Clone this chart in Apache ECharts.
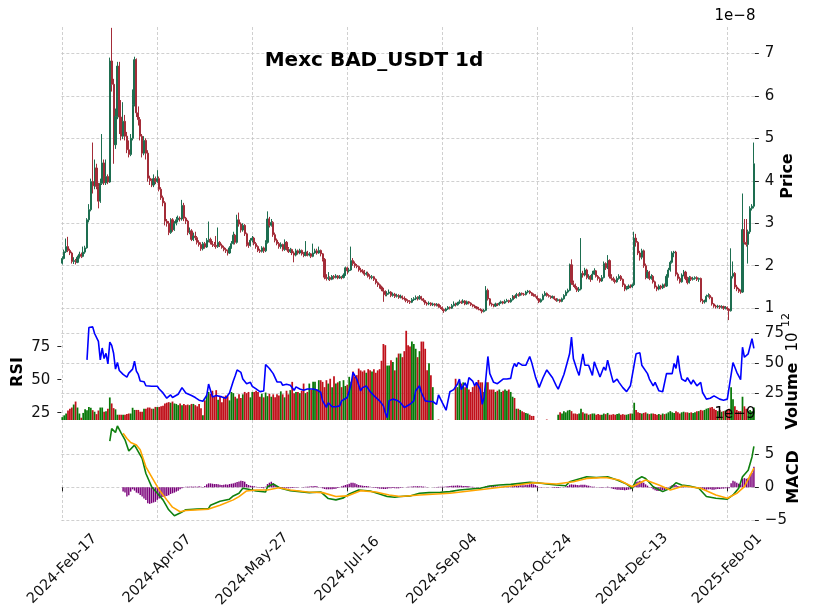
<!DOCTYPE html>
<html>
<head>
<meta charset="utf-8">
<title>Mexc BAD_USDT 1d</title>
<script src="https://cdn.jsdelivr.net/npm/echarts@6/dist/echarts.min.js"></script>
<style>
html, body { margin: 0; padding: 0; background: #fff; }
#chart { width: 818px; height: 615px; }
</style>
</head>
<body>
<div id="chart"></div>
<script>
// daily candles from 2024-02-17, prices in units of 1e-8
var startDate = '2024-02-17';
var firstOpen = 2.06;
var closes = [
  2.17,2.33,2.45,2.36,2.30,2.10,2.12,2.08,2.20,2.27,
  2.22,2.32,2.42,3.08,3.32,3.98,3.88,4.30,3.87,3.52,
  3.94,4.42,3.95,4.10,3.97,6.82,6.27,4.85,5.52,6.70,
  5.50,5.05,5.40,5.05,4.73,4.62,5.00,5.80,6.85,5.60,
  5.44,5.05,4.65,4.95,4.65,4.06,4.00,3.90,4.05,3.98,
  4.05,3.80,3.60,3.48,3.05,3.00,2.78,3.08,2.85,3.00,
  3.08,3.12,3.10,3.42,3.12,3.05,2.78,2.82,2.62,2.70,
  2.66,2.55,2.50,2.40,2.52,2.44,2.60,2.62,2.55,2.50,
  2.48,2.45,2.55,2.48,2.43,2.38,2.35,2.30,2.42,2.52,
  2.72,2.55,3.08,2.98,2.84,2.95,2.75,2.50,2.48,2.60,
  2.65,2.52,2.45,2.36,2.34,2.42,2.35,2.55,3.10,2.95,
  3.02,2.73,2.60,2.52,2.45,2.50,2.38,2.55,2.40,2.33,
  2.38,2.30,2.25,2.35,2.30,2.36,2.28,2.24,2.32,2.25,
  2.28,2.22,2.30,2.35,2.30,2.36,2.28,2.15,1.73,1.70,
  1.72,1.68,1.75,1.72,1.76,1.71,1.74,1.72,1.78,1.95,
  1.88,1.90,2.12,2.05,2.00,1.98,1.90,1.88,1.86,1.80,
  1.82,1.75,1.72,1.74,1.68,1.60,1.55,1.50,1.45,1.40,
  1.32,1.35,1.38,1.30,1.33,1.28,1.30,1.26,1.28,1.24,
  1.22,1.18,1.16,1.14,1.20,1.22,1.25,1.22,1.27,1.22,
  1.18,1.12,1.10,1.12,1.08,1.10,1.07,1.09,1.05,1.02,
  0.97,0.94,0.98,1.02,1.00,1.06,1.10,1.08,1.12,1.15,
  1.13,1.17,1.10,1.15,1.12,1.08,1.05,1.03,1.00,0.98,
  0.96,0.92,0.95,1.42,1.22,1.10,1.08,1.05,1.10,1.08,
  1.12,1.15,1.12,1.16,1.18,1.15,1.20,1.28,1.25,1.32,
  1.30,1.35,1.33,1.32,1.38,1.40,1.36,1.32,1.30,1.28,
  1.22,1.15,1.20,1.30,1.35,1.30,1.28,1.25,1.27,1.22,
  1.18,1.20,1.16,1.22,1.30,1.38,1.42,2.02,1.60,1.55,
  1.48,1.42,1.45,1.82,1.78,1.90,1.72,1.75,1.68,1.80,
  1.88,1.75,1.70,1.64,1.72,2.05,1.95,2.12,1.75,1.70,
  1.66,1.62,1.70,1.75,1.68,1.55,1.45,1.48,1.52,1.50,
  1.55,2.65,2.55,2.30,2.20,2.35,2.00,1.72,1.85,1.70,
  1.75,1.62,1.50,1.45,1.52,1.48,1.55,1.52,1.75,1.90,
  2.08,2.30,2.32,1.80,1.70,1.62,1.78,1.85,1.70,1.60,
  1.72,1.68,1.70,1.72,1.68,1.70,1.18,1.15,1.16,1.28,
  1.30,1.25,1.10,1.05,1.03,1.05,1.02,1.04,1.00,1.02,
  0.98,0.94,1.75,1.82,1.50,1.45,1.40,1.38,2.85,2.55,
  2.50,2.80,3.35,3.40,4.40
];
var highs = [
  2.22,2.38,2.64,2.68,2.40,2.33,2.20,2.16,2.24,2.33,
  2.31,2.45,2.47,3.12,3.45,4.05,4.90,4.50,4.40,3.95,
  4.05,5.10,4.50,4.50,4.15,6.90,7.60,6.40,5.70,6.80,
  6.80,5.90,5.85,5.55,5.15,4.95,5.10,6.15,6.92,6.88,
  5.75,5.50,5.10,5.05,5.00,4.72,4.12,4.05,4.15,4.10,
  4.25,4.10,3.85,3.65,3.52,3.10,3.05,3.12,3.12,3.05,
  3.15,3.18,3.16,3.55,3.48,3.15,3.08,2.90,2.86,2.78,
  2.80,2.70,2.60,2.55,2.56,2.56,2.65,3.04,2.66,2.58,
  2.56,2.70,2.90,2.58,2.52,2.47,2.42,2.38,2.46,2.58,
  2.80,2.75,3.20,3.25,3.02,3.00,2.98,2.78,2.55,2.65,
  2.70,2.68,2.56,2.48,2.40,2.46,2.45,2.60,3.28,3.15,
  3.10,3.05,2.78,2.64,2.56,2.55,2.52,2.62,2.58,2.44,
  2.42,2.40,2.34,2.40,2.38,2.40,2.38,2.32,2.58,2.35,
  2.32,2.30,2.52,2.40,2.40,2.45,2.38,2.30,2.18,1.80,
  1.85,1.75,1.78,1.78,1.80,1.78,1.78,1.76,1.82,1.98,
  1.98,1.95,2.45,2.18,2.10,2.04,2.00,1.95,1.92,1.90,
  1.86,1.86,1.80,1.78,1.76,1.70,1.63,1.58,1.53,1.48,
  1.42,1.40,1.44,1.40,1.37,1.36,1.34,1.33,1.32,1.30,
  1.28,1.24,1.21,1.19,1.24,1.26,1.30,1.28,1.31,1.29,
  1.24,1.20,1.15,1.16,1.14,1.13,1.12,1.12,1.11,1.07,
  1.04,0.99,1.01,1.05,1.04,1.10,1.16,1.13,1.15,1.20,
  1.18,1.21,1.19,1.18,1.17,1.14,1.10,1.08,1.05,1.03,
  1.00,0.98,0.98,1.52,1.46,1.24,1.13,1.10,1.13,1.12,
  1.15,1.18,1.17,1.20,1.22,1.20,1.24,1.31,1.30,1.36,
  1.35,1.38,1.37,1.36,1.41,1.43,1.42,1.38,1.35,1.33,
  1.30,1.24,1.23,1.34,1.40,1.37,1.33,1.30,1.30,1.29,
  1.24,1.23,1.22,1.25,1.33,1.42,1.46,2.05,2.15,1.65,
  1.58,1.52,1.50,2.65,1.88,1.95,1.93,1.80,1.78,1.88,
  1.94,1.90,1.78,1.73,1.78,2.10,2.08,2.25,2.15,1.80,
  1.74,1.70,1.75,1.80,1.78,1.70,1.58,1.52,1.56,1.56,
  1.58,2.80,2.75,2.58,2.35,2.40,2.38,2.05,1.90,1.88,
  1.80,1.78,1.65,1.53,1.56,1.55,1.58,1.58,1.80,1.95,
  2.12,2.34,2.35,2.35,1.84,1.74,1.82,1.90,1.88,1.74,
  1.76,1.75,1.74,1.75,1.75,1.72,1.72,1.22,1.20,1.32,
  1.35,1.33,1.27,1.12,1.08,1.08,1.07,1.07,1.06,1.05,
  1.04,1.00,2.41,2.10,1.85,1.55,1.48,1.44,3.70,3.10,
  3.10,2.85,3.40,3.45,4.90
];
var lows = [
  2.03,2.15,2.30,2.32,2.25,2.05,2.04,2.03,2.06,2.17,
  2.18,2.20,2.28,2.40,3.02,3.28,3.70,3.80,3.80,3.35,
  3.48,3.90,3.90,3.90,3.92,3.95,6.10,4.40,4.75,5.45,
  5.10,4.95,4.98,4.95,4.65,4.55,4.58,4.95,5.75,5.50,
  5.30,4.95,4.55,4.60,4.50,3.98,3.90,3.85,3.85,3.92,
  3.95,3.75,3.55,3.40,2.95,2.92,2.72,2.75,2.80,2.82,
  2.95,3.02,3.04,3.06,3.05,2.98,2.72,2.74,2.58,2.58,
  2.60,2.50,2.45,2.35,2.36,2.40,2.42,2.55,2.50,2.44,
  2.44,2.40,2.42,2.44,2.40,2.34,2.30,2.24,2.28,2.40,
  2.50,2.50,2.52,2.92,2.78,2.80,2.70,2.45,2.42,2.45,
  2.55,2.48,2.40,2.32,2.30,2.31,2.30,2.32,2.52,2.90,
  2.92,2.68,2.55,2.48,2.40,2.40,2.34,2.35,2.36,2.30,
  2.30,2.25,2.08,2.22,2.26,2.27,2.24,2.20,2.22,2.22,
  2.22,2.18,2.20,2.28,2.26,2.28,2.22,2.10,1.68,1.65,
  1.66,1.64,1.66,1.68,1.70,1.68,1.69,1.68,1.70,1.76,
  1.80,1.84,1.88,2.00,1.95,1.94,1.86,1.84,1.82,1.76,
  1.77,1.72,1.68,1.68,1.64,1.56,1.50,1.46,1.40,1.15,
  1.28,1.28,1.32,1.26,1.27,1.24,1.25,1.22,1.23,1.20,
  1.18,1.14,1.12,1.10,1.12,1.17,1.19,1.18,1.20,1.18,
  1.14,1.08,1.06,1.07,1.05,1.05,1.04,1.04,1.01,0.98,
  0.93,0.89,0.92,0.96,0.97,0.98,1.04,1.04,1.06,1.10,
  1.10,1.11,1.07,1.08,1.09,1.05,1.02,1.00,0.97,0.95,
  0.93,0.88,0.90,0.93,1.18,1.06,1.04,1.02,1.03,1.05,
  1.06,1.10,1.09,1.10,1.14,1.12,1.13,1.18,1.22,1.23,
  1.27,1.28,1.30,1.29,1.30,1.35,1.33,1.29,1.27,1.25,
  1.18,1.12,1.13,1.18,1.28,1.27,1.25,1.22,1.23,1.19,
  1.15,1.16,1.13,1.14,1.20,1.28,1.35,1.40,1.55,1.50,
  1.44,1.38,1.38,1.42,1.72,1.75,1.68,1.68,1.62,1.66,
  1.78,1.72,1.65,1.60,1.62,1.70,1.90,1.92,1.70,1.65,
  1.62,1.58,1.60,1.67,1.64,1.50,1.40,1.42,1.45,1.47,
  1.48,1.52,2.45,2.25,2.12,2.15,1.95,1.68,1.70,1.66,
  1.67,1.58,1.46,1.40,1.42,1.44,1.45,1.48,1.50,1.72,
  1.86,2.05,2.20,1.75,1.65,1.58,1.60,1.75,1.66,1.56,
  1.58,1.64,1.65,1.67,1.64,1.62,1.14,1.10,1.11,1.14,
  1.25,1.21,1.06,1.01,0.99,1.00,0.98,0.99,0.96,0.97,
  0.94,0.72,0.92,1.70,1.45,1.40,1.36,1.34,1.36,2.50,
  2.45,2.05,2.75,3.30,3.35
];
// volume in units of 1e12 (null = too small to show)
var volumes = [
  5,6.5,8,10.5,12,13,15.5,18,13,8,
  4.5,8.5,11.5,10.8,13.5,12.8,10.8,9.5,7.5,10.5,
  13,13,9.5,10,12,21.4,16.4,12.5,11.5,7,
  7,7,7,7,7.5,8,8,12.8,11,11,
  11,9.5,9.5,12,12,13,13,12,12,13.5,
  13.5,13.5,14,14.5,16.4,17,17.5,17,18,16.4,
  16,15,16.4,15,16,15,15.5,15,16,16,
  15,14,16,12.5,6.5,19,23,26,24.5,27,
  22,27.5,19.5,22,17.5,22,23,22.5,19,26,
  25,22,20.5,24,21,24,26,25,26,21.5,
  26,26,27,26,22,24.5,21.5,25.5,22.5,24.5,
  22,24,21.5,24,23,26.5,24,21.5,27,24,
  27.5,34.4,25,26,26,25,27,33,25,26,
  33,28,34.4,34.4,28,35.8,35.8,34.4,30,35.8,
  33,37,30,39,33,34,35,30,35.8,31,
  32,38.6,34.4,43,38.6,40,45.5,44,43,44,
  42,45,44,43,45,42,44,45,52,66,
  65,48,48,52.5,51,44,54.7,58,58,55,
  60,77,65,64,68,66,62,55,60,68,
  68,62,44,50,40,30,null,null,3,null,
  null,null,null,null,null,null,null,37,30,34,
  33,34,30,31,28,26,30,31,34,36,
  34,34,26,34,34,28,28,28,26,27,
  28,26,27,28,27,28,26,22,21,12,
  12,11,10,9,8.5,8,7,6,6,null,
  null,null,null,null,null,3,null,null,null,null,
  null,7,9,8,10,9,10.5,11,10,8,
  8,7.5,8,12,9,8,8,7,7.5,8,
  8,7,7.5,7,7,8,7.5,8.5,7,7,
  7.5,7,7.5,8,7,7.5,7,7,7.5,8,
  8,17,11,9,8.5,8,8.5,9,8,7.5,
  8,8,7.5,7,7.5,7,8,7.5,8,9,
  10,9,8.5,10,9,8,9,9.5,9,9,
  8.5,9,8.5,9,10,10,11,10.5,11,12,
  12.5,13,13.5,12,11,10,11,9.5,10,10.5,
  11,12,30,20,14,11,10,10,22,14,
  12,10,11,10,13
];
// RSI line: [day index, value]
var rsiPoints = [
  [13,65],[14,89.5],[16,90],[17,85],[18,86],[19,79],[20,65],[21,74],[22,66],[23,70],
  [24,62],[25,78.5],[26,76],[27,70],[28,58],[29,63],[30,57],[31,58],[32,54],[34,52],
  [35,55],[37,58],[38,64],[39,56.5],[40,54],[41,49],[43,48.5],[44,45.4],[47,45],[50,45],
  [51,43],[53,40],[55,36],[57,38.5],[58,36.5],[61,39],[63,44],[65,40],[66,38.5],[68,38],
  [70,36.5],[72,34.5],[74,33.7],[76,38],[77,46.7],[79,37],[81,38],[84,37],[86,36],[88,40],
  [90,49],[91,53],[92,57.4],[94,55.5],[95,50.5],[97,47],[99,48],[100,45],[102,43],[104,41],
  [106,41.5],[107,61.5],[109,58.5],[110,59.6],[111,54.6],[113,48.3],[115,48.3],[116,45.8],[118,46.5],[120,45.8],
  [122,42],[123,44.6],[125,43],[127,42],[129,43],[130,43.5],[132,43],[134,42.2],[136,40.5],[137,34],
  [139,29],[140,32.6],[142,29.5],[144,29.5],[146,30.2],[147,34],[148,35.3],[150,36.5],[151,41.5],[152,46.7],
  [153,55.6],[155,50.5],[157,41.5],[158,44],[160,45.3],[162,41],[164,38],[165,36.5],[167,34],[169,30.2],
  [170,25],[171,21.3],[172,34],[174,35.3],[175,34],[176,34.5],[178,32.6],[180,29],[181,30.2],[183,31.4],
  [185,34],[186,41.6],[188,45.4],[189,40.3],[191,34],[193,33.5],[195,33.5],[197,31.4],[198,38.5],[200,32.6],
  [202,26.9],[203,34],[204,40.9],[206,42.5],[208,46.7],[209,50.5],[210,42.6],[212,47.6],[213,43.8],[214,51.5],
  [216,49],[217,45.4],[218,48],[220,42.6],[221,31.4],[222,36.5],[224,67.6],[225,54.6],[227,48],[229,47],
  [230,48],[232,50.5],[234,50.5],[236,51],[237,58.5],[238,62.3],[239,59.9],[240,63],[242,61],[243,62.3],
  [244,61],[246,67.6],[247,63.3],[249,52.3],[250,51.3],[251,44.2],[253,51.5],[255,57.4],[256,58.3],[258,51.5],
  [260,45.4],[261,42.9],[264,53.9],[265,59],[267,69.6],[268,82.3],[269,65.8],[271,57],[272,53.3],[274,69.6],
  [275,61],[277,61],[279,53.3],[280,63.5],[281,59.6],[283,52],[285,59.6],[286,57],[287,64.8],[289,53.3],
  [290,48],[292,50.5],[293,48],[295,44],[297,41],[299,45.4],[300,45.4],[302,69.6],[304,70.4],[305,61],
  [306,62.3],[308,54.6],[309,50.5],[311,45.4],[312,48],[314,41.6],[316,40.9],[317,40.3],[318,54.6],[319,53.3],
  [321,54.6],[322,62.3],[323,58.5],[324,68.3],[325,57],[326,50.5],[328,48.7],[329,51.5],[331,46.7],[332,49.8],
  [334,45.4],[336,48],[337,40.3],[339,35.3],[341,36],[343,37.8],[344,36.5],[346,35.3],[348,34.5],[350,35.3],
  [351,34],[353,63],[355,55.6],[357,50],[358,74.6],[359,67],[361,69.6],[363,81],[364,73.7]
];
// MACD in units of 1e-9: [day index, value]
var macdPoints = [
  [25,7.0],[26,8.9],[28,8.3],[29,9.3],[31,8.2],[33,7.2],[35,5.5],[36,5.6],[38,6.4],[39,5.9],
  [42,4.4],[44,2.1],[47,0.1],[50,-0.9],[53,-1.9],[56,-3.4],[59,-4.3],[62,-3.9],[65,-3.4],[71,-3.3],
  [77,-3.2],[78,-2.7],[83,-2.1],[88,-1.8],[90,-1.3],[93,-0.9],[95,-0.15],[98,-0.3],[102,-0.55],[107,-0.7],
  [108,0.1],[111,0.5],[115,-0.15],[120,-0.5],[125,-0.65],[130,-0.8],[136,-0.7],[140,-1.7],[144,-1.9],[148,-1.6],
  [151,-1.0],[156,-0.4],[162,-0.55],[167,-1.0],[171,-1.4],[175,-1.5],[178,-1.4],[183,-1.3],[188,-0.9],[193,-0.8],
  [199,-0.75],[204,-0.65],[209,-0.4],[215,-0.25],[220,-0.15],[225,0.2],[230,0.35],[236,0.45],[241,0.6],[246,0.75],
  [250,0.7],[255,0.5],[260,0.35],[265,0.25],[267,0.85],[271,1.2],[276,1.6],[281,1.5],[287,1.6],[292,1.1],
  [297,0.5],[300,-0.15],[302,1.1],[305,1.6],[307,1.35],[311,0.1],[316,-0.65],[320,-0.15],[323,0.7],[326,0.35],
  [330,0.2],[335,-0.15],[339,-1.4],[344,-1.65],[350,-1.8],[353,-1.15],[356,-0.15],[358,1.6],[361,2.6],[363,4.6],
  [364,6.2]
];
var signalPoints = [
  [32,8.2],[34,7.4],[36,6.8],[39,6.4],[41,5.7],[44,3.1],[48,1.1],[51,-0.4],[55,-1.9],[58,-3.0],
  [62,-3.7],[65,-3.5],[77,-3.3],[83,-2.7],[90,-1.9],[93,-1.4],[97,-0.55],[102,-0.4],[108,-0.4],[114,-0.05],
  [120,-0.4],[129,-0.7],[137,-0.8],[144,-1.4],[150,-1.3],[157,-0.5],[165,-0.7],[172,-1.15],[178,-1.4],[188,-1.15],
  [204,-0.9],[222,-0.3],[236,0.2],[248,0.7],[260,0.5],[269,0.85],[276,1.35],[286,1.5],[293,1.1],[300,0.1],
  [307,1.1],[314,0.35],[320,-0.4],[327,0.2],[336,-0.15],[344,-1.15],[350,-1.65],[355,-0.9],[359,0.1],[364,2.9]
];
// MACD histogram, one bar per day starting at histStart
var histStart = 32;
var macdHist = [
  -0.65,-0.8,-1.4,-1.2,-0.65,-0.3,-0.5,-0.8,-0.9,-1.15,
  -1.4,-1.7,-1.9,-2.4,-2.5,-2.4,-2.3,-2.2,-1.9,-1.7,
  -1.5,-1.45,-1.4,-1.3,-1.2,-1.0,-0.9,-0.8,-0.65,-0.5,
  -0.3,-0.15,0.05,0.1,0.1,0.1,0.12,0.1,0.12,0.1,
  0.15,0.1,0.05,0.2,0.45,0.6,0.6,0.55,0.5,0.5,
  0.45,0.4,0.35,0.4,0.45,0.4,0.5,0.55,0.6,0.7,
  0.8,0.9,1.0,0.95,0.85,0.5,0.35,0.25,0.2,0.15,
  0.1,0.05,-0.05,-0.1,-0.15,0.1,0.5,0.7,0.85,0.6,
  0.35,0.15,0.0,-0.15,-0.15,-0.1,-0.12,-0.15,-0.12,-0.1,
  -0.08,-0.05,-0.02,0.0,0.02,0.05,0.08,0.1,0.12,0.15,
  0.18,0.2,0.15,0.05,-0.05,-0.15,-0.25,-0.3,-0.3,-0.3,
  -0.3,-0.25,-0.2,-0.1,0.05,0.15,0.25,0.35,0.45,0.55,
  0.7,0.7,0.6,0.45,0.35,0.3,0.25,0.2,0.2,0.15,
  0.1,0.05,-0.05,-0.1,-0.15,-0.2,-0.22,-0.25,-0.25,-0.2,
  -0.15,-0.12,-0.1,-0.12,-0.15,-0.15,-0.1,-0.05,0.0,0.05,
  0.08,0.1,0.12,0.15,0.15,0.18,0.15,0.15,0.12,0.1,
  0.05,0.02,0.0,0.02,0.05,0.05,0.08,0.08,0.1,0.1,
  0.12,0.15,0.2,0.25,0.25,0.25,0.3,0.25,0.25,0.22,
  0.2,0.2,0.15,0.1,0.08,0.05,0.05,0.05,0.02,-0.05,
  0.05,0.2,0.25,0.25,0.2,0.2,0.15,0.12,0.1,0.1,
  0.08,0.1,0.1,0.12,0.15,0.2,0.22,0.25,0.25,0.3,
  0.3,0.3,0.35,0.4,0.45,0.5,0.45,0.35,0.2,0.05,
  -0.05,0.0,0.05,0.05,0.02,-0.02,-0.05,-0.1,-0.1,-0.1,
  -0.05,0.0,0.05,0.15,0.2,0.4,0.45,0.4,0.4,0.35,
  0.3,0.4,0.4,0.4,0.3,0.25,0.15,0.1,0.1,0.05,
  0.0,-0.05,-0.05,0.05,0.05,0.1,-0.05,-0.15,-0.25,-0.3,
  -0.35,-0.35,-0.4,-0.4,-0.45,-0.4,-0.35,-0.3,-0.25,0.5,
  0.8,0.9,1.0,0.9,0.7,0.45,0.25,0.05,-0.1,-0.3,
  -0.45,-0.55,-0.55,-0.5,-0.45,-0.4,-0.25,-0.05,0.15,0.35,
  0.45,0.35,0.2,0.1,0.1,0.12,0.05,0.0,0.02,0.0,
  -0.02,-0.05,-0.05,-0.05,-0.25,-0.35,-0.4,-0.35,-0.3,-0.3,
  -0.35,-0.35,-0.3,-0.25,-0.25,-0.2,-0.2,-0.15,-0.15,-0.15,
  0.6,1.0,0.9,0.7,0.55,0.45,1.3,1.4,1.3,1.4,
  1.9,2.2,3.1
];
var priceTicks = [1, 2, 3, 4, 5, 6, 7];
var volumeTicks = [25, 50, 75];
var rsiTicks = [25, 50, 75];
var macdTicks = [-5, 0, 5];
var tickEvery = 50;

var months = ['Jan','Feb','Mar','Apr','May','Jun','Jul','Aug','Sep','Oct','Nov','Dec'];
var t0 = Date.parse(startDate + 'T00:00:00Z');
var dates = closes.map(function (c, i) {
    var d = new Date(t0 + i * 86400000);
    var dd = d.getUTCDate();
    return d.getUTCFullYear() + '-' + months[d.getUTCMonth()] + '-' + (dd < 10 ? '0' + dd : dd);
});

var upColor = '#1d6e50', downColor = '#a32c38';
var volUp = '#087808', volDown = '#c0101a';

var candles = closes.map(function (c, i) {
    var o = i ? closes[i - 1] : firstOpen;
    return [o, c, lows[i], highs[i]];
});
var volumeData = volumes.map(function (v, i) {
    var up = candles[i][1] >= candles[i][0];
    return { value: v === null ? '-' : v, itemStyle: { color: up ? volUp : volDown } };
});
var histData = dates.map(function (d, i) {
    return i < histStart ? '-' : macdHist[i - histStart];
});

function onTick(i) { return i % tickEvery === 0; }
function minus(v) { return String(v).replace('-', '\u2212'); }

var font = '"DejaVu Sans", sans-serif';
var gridLine = { color: '#c4c4c4', type: [3, 2], width: 0.8 };
var tickLine = { color: '#222', width: 1 };
var labelStyle = { fontSize: 15, color: '#111', fontFamily: font };

function xAxisFor(g, showLabels) {
    return {
        type: 'category', gridIndex: g, data: dates, boundaryGap: true,
        axisLine: { show: false },
        axisTick: { show: showLabels, interval: onTick, alignWithLabel: true, length: 4, lineStyle: tickLine },
        axisLabel: Object.assign({ show: showLabels, interval: onTick, rotate: 45, align: 'center',
            verticalAlign: 'middle', margin: 48 }, labelStyle, { fontSize: 14.5 }),
        splitLine: { show: true, interval: onTick, alignWithLabel: true, lineStyle: gridLine }
    };
}

function yAxisFor(g, pos, min, max, ticks, split) {
    return {
        type: 'value', gridIndex: g, position: pos, min: min, max: max, scale: true,
        axisLine: { show: false },
        axisTick: { show: true, customValues: ticks, length: 4, lineStyle: tickLine },
        axisLabel: Object.assign({ customValues: ticks, margin: pos === 'left' ? 11 : 10, formatter: minus }, labelStyle),
        splitLine: { show: split, lineStyle: gridLine }
    };
}

function vText(x, y, text, size, weight) {
    return {
        type: 'text', x: x, y: y, rotation: Math.PI / 2, z: 100,
        style: { text: text, align: 'center', verticalAlign: 'middle', fill: '#000',
            font: (weight || 'normal') + ' ' + size + 'px ' + font }
    };
}
function hText(x, y, text, size, weight) {
    return {
        type: 'text', x: x, y: y, z: 100,
        style: { text: text, align: 'center', verticalAlign: 'middle', fill: '#000',
            font: (weight || 'normal') + ' ' + size + 'px ' + font }
    };
}

var gl = 61.35, gw = 693.5;
var chart = echarts.init(document.getElementById('chart'));
chart.setOption({
    animation: false,
    backgroundColor: '#fff',
    textStyle: { fontFamily: font },
    grid: [
        { left: gl, width: gw, top: 27, height: 293, outerBoundsMode: 'none' },
        { left: gl, width: gw, top: 320, height: 100, outerBoundsMode: 'none' },
        { left: gl, width: gw, top: 420, height: 101, outerBoundsMode: 'none' }
    ],
    xAxis: [xAxisFor(0, false), xAxisFor(1, false), xAxisFor(2, true)],
    yAxis: [
        yAxisFor(0, 'right', 0.722, 7.62, priceTicks, true),
        yAxisFor(1, 'right', 2.6, 86, volumeTicks, true),
        yAxisFor(1, 'left', 19.5, 95.2, rsiTicks, false),
        yAxisFor(2, 'right', -5.1, 10.2, macdTicks, true)
    ],
    series: [
        {
            name: 'Price', type: 'candlestick', xAxisIndex: 0, yAxisIndex: 0,
            data: candles, barWidth: 1.6,
            itemStyle: { color: upColor, color0: downColor, borderColor: upColor,
                borderColor0: downColor, borderWidth: 1 }
        },
        {
            name: 'Volume', type: 'bar', xAxisIndex: 1, yAxisIndex: 1,
            data: volumeData, barWidth: '92%', clip: true, z: 2
        },
        {
            name: 'RSI', type: 'line', xAxisIndex: 1, yAxisIndex: 2,
            data: rsiPoints, showSymbol: false, z: 5,
            lineStyle: { color: '#0000ff', width: 1.6 }
        },
        {
            name: 'Histogram', type: 'bar', xAxisIndex: 2, yAxisIndex: 3,
            data: histData, barWidth: '75%', itemStyle: { color: '#7a007a' }, z: 2
        },
        {
            name: 'MACD', type: 'line', xAxisIndex: 2, yAxisIndex: 3,
            data: macdPoints, showSymbol: false, z: 5,
            lineStyle: { color: '#0f800f', width: 1.6 }
        },
        {
            name: 'Signal', type: 'line', xAxisIndex: 2, yAxisIndex: 3,
            data: signalPoints, showSymbol: false, z: 6,
            lineStyle: { color: '#ffa500', width: 1.6 }
        }
    ],
    graphic: [
        hText(374, 61, 'Mexc BAD_USDT 1d', 20, 'bold'),
        hText(735, 16, '1e\u22128', 15),
        hText(735, 414, '1e\u22129', 15),
        vText(788, 176, 'Price', 16, 'bold'),
        vText(18, 372, 'RSI', 16, 'bold'),
        vText(793, 396, 'Volume', 16, 'bold'),
        vText(793, 342, '10', 15),
        vText(786, 320, '12', 11),
        vText(794, 477, 'MACD', 16, 'bold')
    ]
});
</script>
</body>
</html>
